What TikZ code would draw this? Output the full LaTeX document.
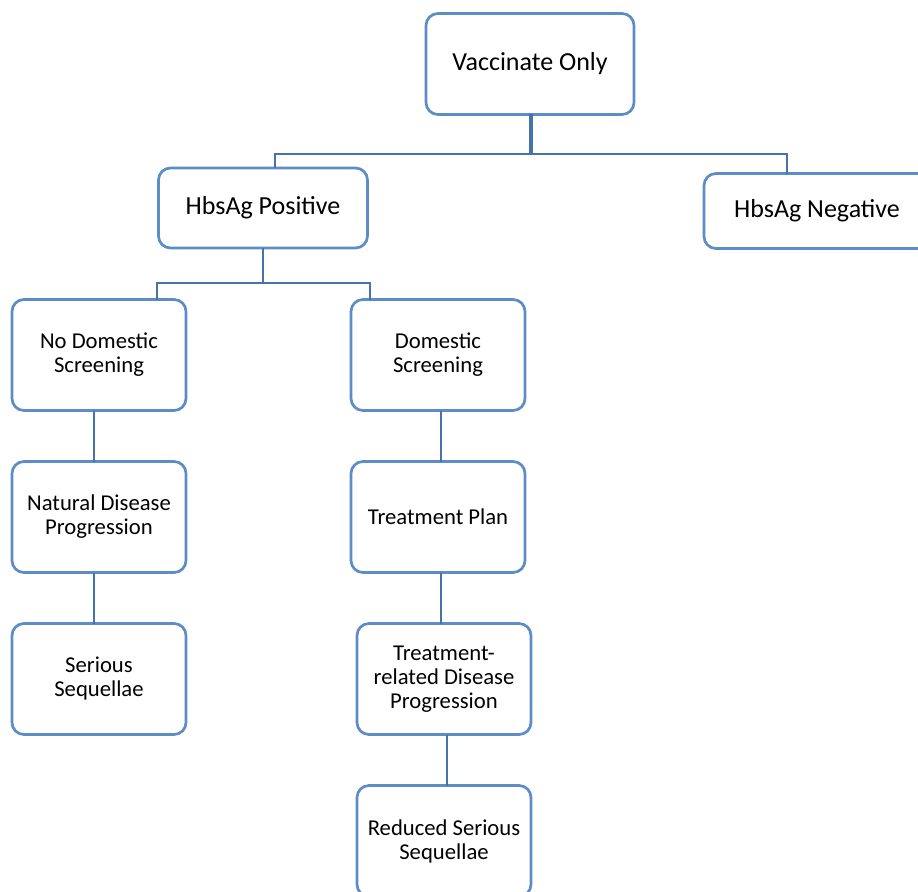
\documentclass[tikz,border=0pt]{standalone}
\usepackage{fontspec}
\setmainfont{Carlito}
\usetikzlibrary{positioning,calc}
\definecolor{boxblue}{HTML}{5D8CC6}
\definecolor{linkblue}{HTML}{4674AA}

\begin{document}
\begin{tikzpicture}[x=0.75pt,y=-0.75pt]
% Define box and connector styles
\tikzstyle{box} = [rectangle, rounded corners=9pt, draw=boxblue, line width=2pt, fill=white, align=center, inner sep=0pt, outer sep=0pt]
\tikzstyle{bigbox} = [box, font=\fontsize{19.5}{22}\selectfont, minimum width=156pt, minimum height=75.75pt]
\tikzstyle{midbox} = [box, font=\fontsize{19.5}{22}\selectfont, minimum width=156.75pt, minimum height=60pt]
\tikzstyle{smallbox} = [box, font=\fontsize{17}{18}\selectfont, minimum width=130.5pt, minimum height=83.25pt]
\tikzstyle{link} = [draw=linkblue, line width=2pt]
\tikzstyle{trunk} = [draw=linkblue, line width=3.2pt]
\fill[white] (0,0) rectangle (918,892);
\useasboundingbox (0,0) rectangle (918,892);
\clip (0,0) rectangle (918,892);
% Define nodes (top levels)
\node[bigbox] (vaccinate) at (530,64) {Vaccinate Only};
\node[midbox] (positive) at (263,208) {HbsAg Positive};
\node[midbox, minimum width=169.5pt, minimum height=56.25pt] (negative) at (817,211) {HbsAg Negative};
% Define left branch
\node[smallbox] (nodomestic) at (99,355) {No Domestic\\Screening};
\node[smallbox, below=38.25pt of nodomestic] (natural) {Natural Disease\\Progression};
\node[smallbox, below=38.25pt of natural] (serious) {Serious\\Sequellae};
% Define right branch
\node[smallbox] (domestic) at (438,355) {Domestic\\Screening};
\node[smallbox, below=38.25pt of domestic] (plan) {Treatment Plan};
\node[smallbox, below=38.25pt of plan, xshift=4.5pt] (related) {Treatment-\\related Disease\\Progression};
\node[smallbox, below=38.25pt of related] (reduced) {Reduced Serious\\Sequellae};
% Split points
\coordinate (split1) at (531,154);
\coordinate (split2) at (263,283);
\coordinate (posTop) at ($(positive.north)+(12,0)$);
\coordinate (negTop) at ($(negative.north west)+(83,0)$);
\coordinate (noTop) at ($(nodomestic.north)+(58,0)$);
\coordinate (domTop) at ($(domestic.north)+(-68,0)$);
% Relationships (lines)
\draw[trunk] ([xshift=0.75pt]vaccinate.south) -- (split1);
\draw[link] (posTop) |- (split1) -| (negTop);
\draw[link] (positive.south) -- (split2);
\draw[link] (noTop) |- (split2) -| (domTop);
\draw[link] ([xshift=-3.75pt]nodomestic.south) -- ([xshift=-3.75pt]natural.north);
\draw[link] ([xshift=-3.75pt]natural.south) -- ([xshift=-3.75pt]serious.north);
\draw[link] ([xshift=2.25pt]domestic.south) -- ([xshift=2.25pt]plan.north);
\draw[link] ([xshift=2.25pt]plan.south) -- ([xshift=-2.25pt]related.north);
\draw[link] ([xshift=2.25pt]related.south) -- ([xshift=2.25pt]reduced.north);
\end{tikzpicture}
\end{document}
